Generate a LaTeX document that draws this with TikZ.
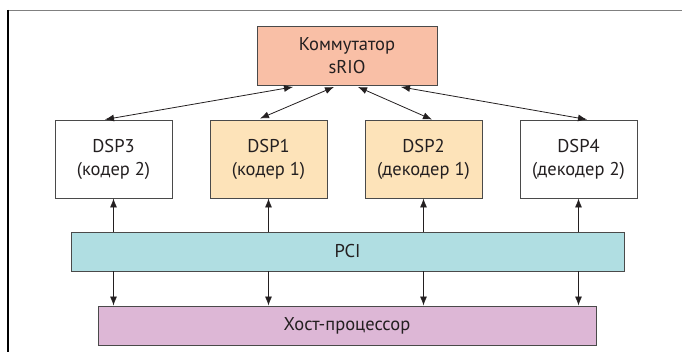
\documentclass[tikz,border=0pt]{standalone}
\usepackage{fontspec}
\setmainfont{PT Sans}
\usetikzlibrary{arrows.meta}
\definecolor{swfill}{HTML}{F9BFA6}
\definecolor{dspfill}{HTML}{FDE3B9}
\definecolor{pcifill}{HTML}{B0DEE2}
\definecolor{hostfill}{HTML}{DDB7D6}
\definecolor{edge}{HTML}{4A4A4A}
\definecolor{ink}{HTML}{231F20}
\definecolor{framegray}{HTML}{808080}
\tikzset{
  box/.style={draw=edge, line width=0.9pt, text=ink, align=center,
    font=\fontsize{18.5}{23}\selectfont, inner sep=0pt},
  dspbox/.style={box, minimum width=117pt, minimum height=78pt},
  conn/.style={draw=ink, line width=0.8pt},
  tip/.style={-{Latex[length=9pt,width=7pt]}},
  bitip/.style={{Latex[length=9pt,width=7pt]}-{Latex[length=9pt,width=7pt]}}
}
\begin{document}
\begin{tikzpicture}[x=1pt,y=-1pt]
\useasboundingbox (0,0) rectangle (682,352);
% frame
\draw[framegray, line width=1.4pt] (8,10.5) -- (682,10.5);
\draw[black, line width=1.6pt] (8,9.8) -- (8,352);
% nodes
\node[box, fill=swfill, minimum width=180pt, minimum height=59pt] (sw) at (347,55.5) {Коммутатор\\sRIO};
\node[dspbox, fill=white] (d3) at (113.5,159) {DSP3\\(кодер 2)};
\node[dspbox, fill=dspfill] (d1) at (268.5,159) {DSP1\\(кодер 1)};
\node[dspbox, fill=dspfill] (d2) at (423.5,159) {DSP2\\(декодер 1)};
\node[dspbox, fill=white] (d4) at (578.5,159) {DSP4\\(декодер 2)};
\node[box, fill=pcifill, minimum width=553pt, minimum height=39pt] (pci) at (347.5,251.5) {PCI};
\node[box, fill=hostfill, minimum width=498pt, minimum height=39pt] (host) at (347,325.5) {Хост-процессор};
% switch connectors
\draw[conn, bitip] ([xshift=-54pt,yshift=-1.5pt]sw.south) -- ([xshift=-8.5pt]d3.north);
\draw[conn, bitip] ([xshift=-13pt,yshift=-1.5pt]sw.south) -- ([xshift=-8.5pt,yshift=1pt]d1.north);
\draw[conn, bitip] ([xshift=11pt,yshift=-1.5pt]sw.south) -- ([xshift=8.5pt]d2.north);
\draw[conn, bitip] ([xshift=54pt,yshift=-1.5pt]sw.south) -- ([xshift=8.5pt]d4.north);
% PCI to DSPs
\foreach \d in {d3,d1,d2,d4}{
  \draw[conn, tip] (pci.north -| \d.south) -- (\d.south);
  \draw[conn, tip] (pci.south -| \d.south) -- (host.north -| \d.south);
}
\end{tikzpicture}
\end{document}
